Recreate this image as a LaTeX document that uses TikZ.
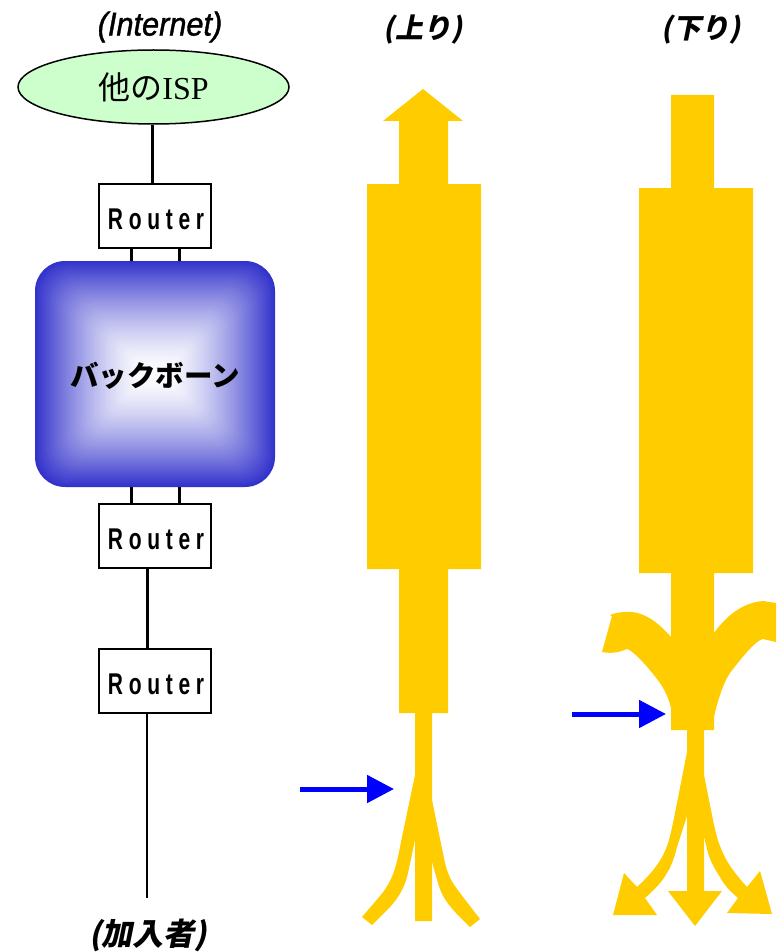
\documentclass[tikz,border=0pt]{standalone}
\usepackage{fontspec}
\setmainfont{Liberation Sans}
\newfontfamily\serifjp{Liberation Serif}
\newfontfamily\cjk{Noto Sans CJK JP}
\newfontfamily\cjkslant[FakeSlant=0.2,BoldFeatures={FakeSlant=0.2}]{Noto Sans CJK JP}
\newfontfamily\routerfont[FakeStretch=0.7,LetterSpace=19]{Liberation Sans}
\newfontfamily\netfont[FakeStretch=0.93,FakeBold=1.2]{Liberation Sans}
\newcommand{\lowered}[2]{\raisebox{-#1}[\height][\depth]{#2}}
\usetikzlibrary{shapes.geometric,arrows.meta}
\definecolor{flow}{HTML}{FFCC00}
\definecolor{cloudgreen}{HTML}{CCFFCC}
\definecolor{bbblue}{HTML}{3333CC}
\definecolor{pure}{HTML}{0000FF}
\tikzset{
  router/.style={draw=black,fill=white,line width=1.5pt,minimum width=112pt,minimum height=64pt,inner sep=0pt,
    font=\routerfont\bfseries\fontsize{30}{30}\selectfont},
  link/.style={draw=black,line width=3pt},
  thinlink/.style={draw=black,line width=1.5pt},
  caption/.style={inner sep=0pt,font=\cjkslant\bfseries\fontsize{28}{30}\selectfont},
  band/.style={fill=flow,draw=none},
  marker/.style={draw=pure,line width=5pt,-{Triangle[length=27pt,width=27pt]}}
}
\begin{document}
\begin{tikzpicture}[x=1pt,y=-1pt]
\useasboundingbox (0,0) rectangle (776,952);

% upstream flow
\fill[band] (423,89) -- (463,121) -- (448,121) -- (448,184) -- (481,184) -- (481,569) -- (448,569) -- (448,713)
  -- (432,713) -- (432,921) -- (415,921) -- (415,713) -- (399,713) -- (399,569) -- (367,569) -- (367,184)
  -- (399,184) -- (399,121) -- (383,121) -- cycle;
\fill[band] (415,775) -- (402,837) .. controls (397,862) and (395,878) .. (380,896)
  -- (362,917) -- (372,925) -- (385,912)
  .. controls (398,900) and (405,887) .. (408,873) -- (415,840) -- cycle;
\fill[band] (432,800) -- (445,863) .. controls (449,880) and (455,886) .. (463,897)
  -- (480,919) -- (470,927) -- (456,913)
  .. controls (444,900) and (441,893) .. (438,883) -- (432,862) -- cycle;

% downstream flow
\fill[band] (671,95) -- (714,95) -- (714,188) -- (753,188) -- (753,573) -- (714,573) -- (714,730) -- (704,730)
  -- (704,891) -- (722,891) -- (695,926) -- (668,891) -- (687,891) -- (687,730) -- (671,730) -- (671,573)
  -- (639,573) -- (639,188) -- (671,188) -- cycle;
\fill[band] (687,752) -- (675,813) .. controls (671,833) and (669,842) .. (665,851)
  .. controls (660,863) and (650,875) .. (637,887) -- (624,873) -- (613,915) -- (657,915) -- (645,898)
  .. controls (655,889) and (662,882) .. (667,873) .. controls (672,865) and (675,855) .. (677,847) -- (687,816) -- cycle;
\fill[band] (704,775) -- (713,820) .. controls (716,835) and (719,845) .. (723,853)
  .. controls (728,865) and (738,877) .. (747,887) -- (760,871) -- (772,914) -- (727,913) -- (738,898)
  .. controls (730,891) and (724,885) .. (720,877) .. controls (714,868) and (710,860) .. (708,853) -- (704,837) -- cycle;
\fill[band] (671,637) .. controls (658,622) and (643,611) .. (627,612) .. controls (620,612) and (615,613) .. (610,615)
  -- (612,616) -- (602,652) .. controls (612,654) and (620,652) .. (627,649)
  .. controls (632,650) and (646,664) .. (660,683) .. controls (666,692) and (669,700) .. (671,708) -- cycle;
\fill[band] (714,633) .. controls (722,622) and (738,603) .. (763,601) -- (776,603) -- (776,642) -- (763,639)
  .. controls (757,640) and (745,653) .. (730,673) .. controls (723,683) and (717,703) .. (714,717) -- cycle;

% backbone with rectangular gradient
\foreach \i in {0,...,56} {
  \pgfmathsetmacro{\inset}{\i*2}
  \pgfmathsetmacro{\pc}{min(97,100*(1-(1-\inset/113.5)^1.5))}
  \pgfmathsetmacro{\rad}{max(1,30-\inset*0.28)}
  \fill[white!\pc!bbblue,rounded corners=\rad pt] (35+\inset,261+\inset) rectangle (275-\inset,487-\inset);
}
\node[minimum width=240pt,minimum height=226pt,inner sep=0pt,font=\cjk\bfseries\fontsize{28.5}{30}\selectfont] (bb) at (155,374) {\lowered{2pt}{バックボーン}};

% nodes
\node[draw=black,fill=cloudgreen,line width=1.5pt,ellipse,minimum width=271pt,minimum height=74pt,inner sep=0pt] (isp) at (153.5,87)
  {\fontsize{32}{33}\selectfont{\cjk 他の}{\serifjp ISP}};
\node[router] (r1) at (155,216) {\hspace{2pt}\lowered{3pt}{Router}};
\node[router] (r2) at (155,536) {\hspace{2pt}\lowered{3pt}{Router}};
\node[router] (r3) at (155,681) {\hspace{2pt}\lowered{3pt}{Router}};
\coordinate (sub) at (147,898);

% connectors
\draw[link] ([xshift=-1.5pt]isp.south) -- ([xshift=-1.5pt]isp.south |- r1.north);
\draw[link] ([xshift=-24pt]r1.south) -- ([xshift=-24pt]r1.south |- bb.north);
\draw[link] ([xshift=24pt]r1.south) -- ([xshift=24pt]r1.south |- bb.north);
\draw[link] ([xshift=-24pt]bb.south) -- ([xshift=-24pt]bb.south |- r2.north);
\draw[link] ([xshift=24pt]bb.south) -- ([xshift=24pt]bb.south |- r2.north);
\draw[link] (sub |- r2.south) -- (sub |- r3.north);
\draw[thinlink] (sub |- r3.south) -- (sub);

% captions
\node[inner sep=0pt,font=\netfont\itshape\fontsize{33}{34}\selectfont] (capnet) at (160,27) {(Internet)};
\node[caption] (capup) at (423,30) {(上り)};
\node[caption] (capdown) at (701,30) {(下り)};
\node[caption,font=\cjkslant\bfseries\fontsize{31}{32}\selectfont] (capsub) at (148,935) {(加入者)};

% measuring-point arrows
\coordinate (m1a) at (300,789);
\coordinate (m1b) at (394,789);
\coordinate (m2a) at (572,714);
\coordinate (m2b) at (666,714);
\draw[marker] (m1a) -- (m1b);
\draw[marker] (m2a) -- (m2b);
\end{tikzpicture}
\end{document}
